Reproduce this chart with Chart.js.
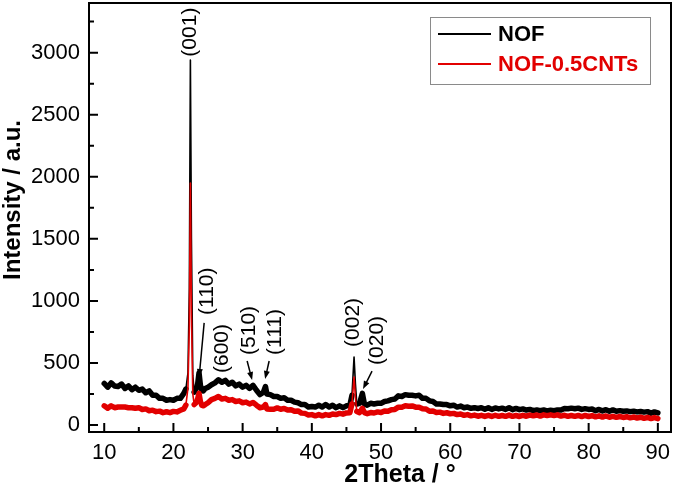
<!DOCTYPE html>
<html lang="en">
<head>
    <meta charset="UTF-8">
    <title>XRD NOF</title>
    <script src="https://cdn.jsdelivr.net/npm/chart.js"></script>
    <style>
        html, body { margin: 0; padding: 0; background: #fff; }
        #wrap { width: 675px; height: 489px; }
    </style>
</head>
<body>
    <div id="wrap"><canvas id="xrdChart" width="675" height="489"></canvas></div>
    <script>
        // 2theta positions (deg), shared by both patterns
        const twoTheta = [
            10, 10.5, 11, 11.5, 12, 12.5, 13, 13.5, 14, 14.5,
            15, 15.5, 16, 16.5, 17, 17.5, 18, 18.5, 19, 19.5,
            20, 20.5, 21, 21.5,
            21.8, 22.1, 22.3, 22.45, 22.6, 22.8, 23.0, 23.2, 23.5, 23.7, 23.9, 24.1, 24.3, 24.6,
            25, 25.5, 26, 26.5, 27, 27.5, 28, 28.5, 29, 29.5,
            30, 30.5, 31, 31.5, 32, 32.5, 33, 33.3, 33.5, 34,
            34.5, 35, 35.5, 36, 36.5, 37, 37.5, 38, 38.5, 39,
            39.5, 40, 40.5, 41, 41.5, 42, 42.5, 43, 43.5, 44,
            44.5, 45, 45.5, 45.8, 46.1, 46.3, 46.5, 46.9, 47.3, 47.6,
            48, 48.5, 49, 49.5, 50, 50.5, 51, 51.5, 52, 52.5,
            53, 53.5, 54, 54.5, 55, 55.5, 56, 56.5, 57, 57.5,
            58, 58.5, 59, 59.5, 60, 60.5, 61, 61.5, 62, 62.5,
            63, 63.5, 64, 64.5, 65, 65.5, 66, 66.5, 67, 67.5,
            68, 68.5, 69, 69.5, 70, 70.5, 71, 71.5, 72, 72.5,
            73, 73.5, 74, 74.5, 75, 75.5, 76, 76.5, 77, 77.5,
            78, 78.5, 79, 79.5, 80, 80.5, 81, 81.5, 82, 82.5,
            83, 83.5, 84, 84.5, 85, 85.5, 86, 86.5, 87, 87.5,
            88, 88.5, 89, 89.5, 90
        ];

        const nof = [
            335, 305, 340, 315, 310, 330, 295, 315, 285, 305,
            280, 290, 260, 275, 240, 240, 215, 215, 200, 205,
            200, 215, 215, 255,
            290, 420, 1100, 2940, 1500, 400, 265, 280, 330, 420, 320, 280, 275, 295,
            305, 325, 340, 365, 345, 360, 330, 345, 315, 330,
            305, 320, 295, 320, 280, 245, 265, 310, 250, 245,
            230, 230, 215, 220, 200, 200, 185, 180, 165, 165,
            145, 150, 145, 160, 145, 165, 145, 160, 140, 155,
            140, 155, 160, 240, 548, 330, 170, 175, 255, 170,
            160, 175, 170, 175, 175, 190, 195, 205, 210, 235,
            230, 245, 240, 240, 235, 240, 215, 215, 195, 190,
            170, 170, 165, 165, 155, 160, 145, 153, 140, 145,
            135, 140, 133, 140, 128, 140, 126, 138, 130, 136,
            126, 140, 124, 134, 124, 130, 121, 126, 116, 122,
            116, 121, 114, 119, 116, 122, 121, 134, 131, 136,
            131, 136, 126, 132, 126, 129, 116, 126, 114, 124,
            111, 122, 111, 116, 111, 114, 108, 112, 106, 109,
            104, 108, 96, 106, 98
        ];

        const nofCnt = [
            155, 135, 155, 140, 145, 145, 145, 140, 140, 135,
            140, 125, 130, 115, 120, 108, 112, 100, 107, 100,
            110, 106, 119, 130,
            160, 300, 800, 1950, 900, 250, 165, 175, 210, 255, 190, 160, 155, 165,
            180, 205, 215, 230, 210, 215, 200, 205, 190, 195,
            180, 185, 170, 182, 160, 140, 145, 165, 130, 128,
            127, 138, 127, 134, 121, 124, 111, 114, 96, 94,
            81, 84, 74, 84, 74, 84, 78, 89, 84, 94,
            88, 98, 100, 170, 387, 220, 110, 100, 135, 100,
            92, 101, 97, 106, 101, 114, 111, 124, 126, 144,
            144, 156, 151, 154, 144, 144, 131, 129, 111, 114,
            101, 104, 94, 99, 91, 94, 84, 89, 78, 84,
            74, 80, 71, 78, 69, 78, 69, 79, 70, 77,
            70, 80, 70, 77, 69, 78, 71, 80, 74, 81,
            72, 82, 76, 82, 76, 82, 72, 79, 70, 77,
            70, 77, 68, 77, 69, 76, 66, 74, 64, 73,
            63, 70, 62, 69, 61, 67, 58, 65, 56, 63,
            54, 61, 52, 60, 52
        ];

        const seriesNames = ['NOF', 'NOF-0.5CNTs'];
        const xTitle = '2Theta / °';
        const yTitle = 'Intensity / a.u.';
        const xTicks = [10, 20, 30, 40, 50, 60, 70, 80, 90];
        const xMinor = [15, 25, 35, 45, 55, 65, 75, 85];
        const yTicks = [0, 500, 1000, 1500, 2000, 2500, 3000];
        const yMinor = [250, 750, 1250, 1750, 2250, 2750, 3250];

        // peak labels: text bottom anchored in data coordinates
        const peakLabels = [
            { text: '(001)', x: 22.42, y: 2968 },
            { text: '(110)', x: 24.87, y: 887 },
            { text: '(600)', x: 27.04, y: 419 },
            { text: '(510)', x: 30.94, y: 565 },
            { text: '(111)', x: 34.69, y: 565 },
            { text: '(002)', x: 45.96, y: 629 },
            { text: '(020)', x: 49.42, y: 484 }
        ];
        const peakArrows = [
            { x0: 24.44, y0: 823, x1: 23.72, y1: 387 },
            { x0: 30.65, y0: 516, x1: 31.37, y1: 363 },
            { x0: 33.83, y0: 516, x1: 33.25, y1: 371 },
            { x0: 48.70, y0: 435, x1: 47.40, y1: 290 }
        ];

        if (nof.length !== twoTheta.length || nofCnt.length !== twoTheta.length) {
            console.error('length mismatch', twoTheta.length, nof.length, nofCnt.length);
        }

        const FONT = "'Liberation Sans', Arial, sans-serif";
        const RED = '#e20000';

        const inPeak = x => (x >= 21.8 && x <= 23.0) || (x >= 45.8 && x <= 46.5);
        const segWidth = ctx => (inPeak(ctx.p0.parsed.x) && inPeak(ctx.p1.parsed.x)) ? 1.6 : 5.5;

        const decor = {
            id: 'decor',
            afterDatasetsDraw(chart) {
                const { ctx, chartArea: a, scales: { x, y } } = chart;
                ctx.save();
                ctx.strokeStyle = '#000';
                ctx.lineWidth = 2;

                // inward tick marks
                ctx.beginPath();
                xTicks.forEach(v => { const p = x.getPixelForValue(v); ctx.moveTo(p, a.bottom); ctx.lineTo(p, a.bottom - 9); });
                xMinor.forEach(v => { const p = x.getPixelForValue(v); ctx.moveTo(p, a.bottom); ctx.lineTo(p, a.bottom - 5); });
                yTicks.forEach(v => { const p = y.getPixelForValue(v); ctx.moveTo(a.left, p); ctx.lineTo(a.left + 9, p); });
                yMinor.forEach(v => { const p = y.getPixelForValue(v); ctx.moveTo(a.left, p); ctx.lineTo(a.left + 5, p); });
                ctx.stroke();

                // frame
                ctx.strokeRect(a.left, a.top, a.right - a.left, a.bottom - a.top);

                // axis titles
                ctx.fillStyle = '#000';
                ctx.textAlign = 'center';
                ctx.textBaseline = 'middle';
                ctx.font = 'bold 25px ' + FONT;
                ctx.fillText(xTitle, 400, 475);
                ctx.save();
                ctx.translate(13, 200);
                ctx.rotate(-Math.PI / 2);
                ctx.font = 'bold 24px ' + FONT;
                ctx.fillText(yTitle, 0, 0);
                ctx.restore();

                // peak labels
                ctx.font = '21px ' + FONT;
                ctx.textAlign = 'left';
                peakLabels.forEach(l => {
                    ctx.save();
                    ctx.translate(x.getPixelForValue(l.x), y.getPixelForValue(l.y));
                    ctx.rotate(-Math.PI / 2);
                    ctx.fillText(l.text, 0, 0);
                    ctx.restore();
                });

                // arrows
                ctx.lineWidth = 1.5;
                peakArrows.forEach(r => {
                    const x0 = x.getPixelForValue(r.x0), y0 = y.getPixelForValue(r.y0);
                    const x1 = x.getPixelForValue(r.x1), y1 = y.getPixelForValue(r.y1);
                    const ang = Math.atan2(y1 - y0, x1 - x0);
                    ctx.beginPath();
                    ctx.moveTo(x0, y0);
                    ctx.lineTo(x1 - 5 * Math.cos(ang), y1 - 5 * Math.sin(ang));
                    ctx.stroke();
                    ctx.beginPath();
                    ctx.moveTo(x1, y1);
                    ctx.lineTo(x1 - 8 * Math.cos(ang) + 3 * Math.sin(ang), y1 - 8 * Math.sin(ang) - 3 * Math.cos(ang));
                    ctx.lineTo(x1 - 8 * Math.cos(ang) - 3 * Math.sin(ang), y1 - 8 * Math.sin(ang) + 3 * Math.cos(ang));
                    ctx.closePath();
                    ctx.fill();
                });

                // legend box
                const lx = 430, ly = 17, lw = 220, lh = 67;
                ctx.fillStyle = '#fff';
                ctx.fillRect(lx, ly, lw, lh);
                ctx.strokeStyle = '#8a8a8a';
                ctx.lineWidth = 1;
                ctx.strokeRect(lx + 0.5, ly + 0.5, lw, lh);
                const rows = [{ c: '#000', yy: 34 }, { c: RED, yy: 64 }];
                ctx.font = 'bold 22px ' + FONT;
                rows.forEach((r, i) => {
                    ctx.strokeStyle = r.c;
                    ctx.lineWidth = 2;
                    ctx.beginPath();
                    ctx.moveTo(438, r.yy);
                    ctx.lineTo(491, r.yy);
                    ctx.stroke();
                    ctx.fillStyle = r.c;
                    ctx.fillText(seriesNames[i], 498, r.yy + 1);
                });
                ctx.restore();
            }
        };

        const ctx = document.getElementById('xrdChart').getContext('2d');
        new Chart(ctx, {
            type: 'line',
            data: {
                datasets: [
                    {
                        label: seriesNames[0],
                        data: twoTheta.map((t, i) => ({ x: t, y: nof[i] })),
                        borderColor: '#000',
                        borderWidth: 5.5,
                        borderJoinStyle: 'round',
                        borderCapStyle: 'round',
                        segment: { borderWidth: segWidth },
                        pointRadius: 0,
                        tension: 0,
                        order: 2
                    },
                    {
                        label: seriesNames[1],
                        data: twoTheta.map((t, i) => ({ x: t, y: nofCnt[i] })),
                        borderColor: RED,
                        borderWidth: 5.5,
                        borderJoinStyle: 'round',
                        borderCapStyle: 'round',
                        segment: { borderWidth: segWidth },
                        pointRadius: 0,
                        tension: 0,
                        order: 1
                    }
                ]
            },
            options: {
                responsive: false,
                animation: false,
                layout: { padding: { top: 3, right: 4, left: 0, bottom: 0 } },
                plugins: { legend: { display: false }, tooltip: { enabled: false } },
                scales: {
                    x: {
                        type: 'linear',
                        min: 7.8,
                        max: 91.9,
                        afterBuildTicks: s => { s.ticks = xTicks.map(v => ({ value: v })); },
                        afterFit: s => { s.height = 57; s.paddingLeft = 0; s.paddingRight = 0; },
                        grid: { display: false, drawTicks: false },
                        border: { display: false },
                        ticks: { color: '#000', font: { family: FONT, size: 22 }, padding: 8, maxRotation: 0, callback: v => String(v) }
                    },
                    y: {
                        min: -56,
                        max: 3400,
                        afterBuildTicks: s => { s.ticks = yTicks.map(v => ({ value: v })); },
                        afterFit: s => { s.width = 89; s.paddingTop = 0; s.paddingBottom = 0; },
                        grid: { display: false, drawTicks: false },
                        border: { display: false },
                        ticks: { color: '#000', font: { family: FONT, size: 22 }, padding: 9, callback: v => String(v) }
                    }
                }
            },
            plugins: [decor]
        });
    </script>
</body>
</html>
